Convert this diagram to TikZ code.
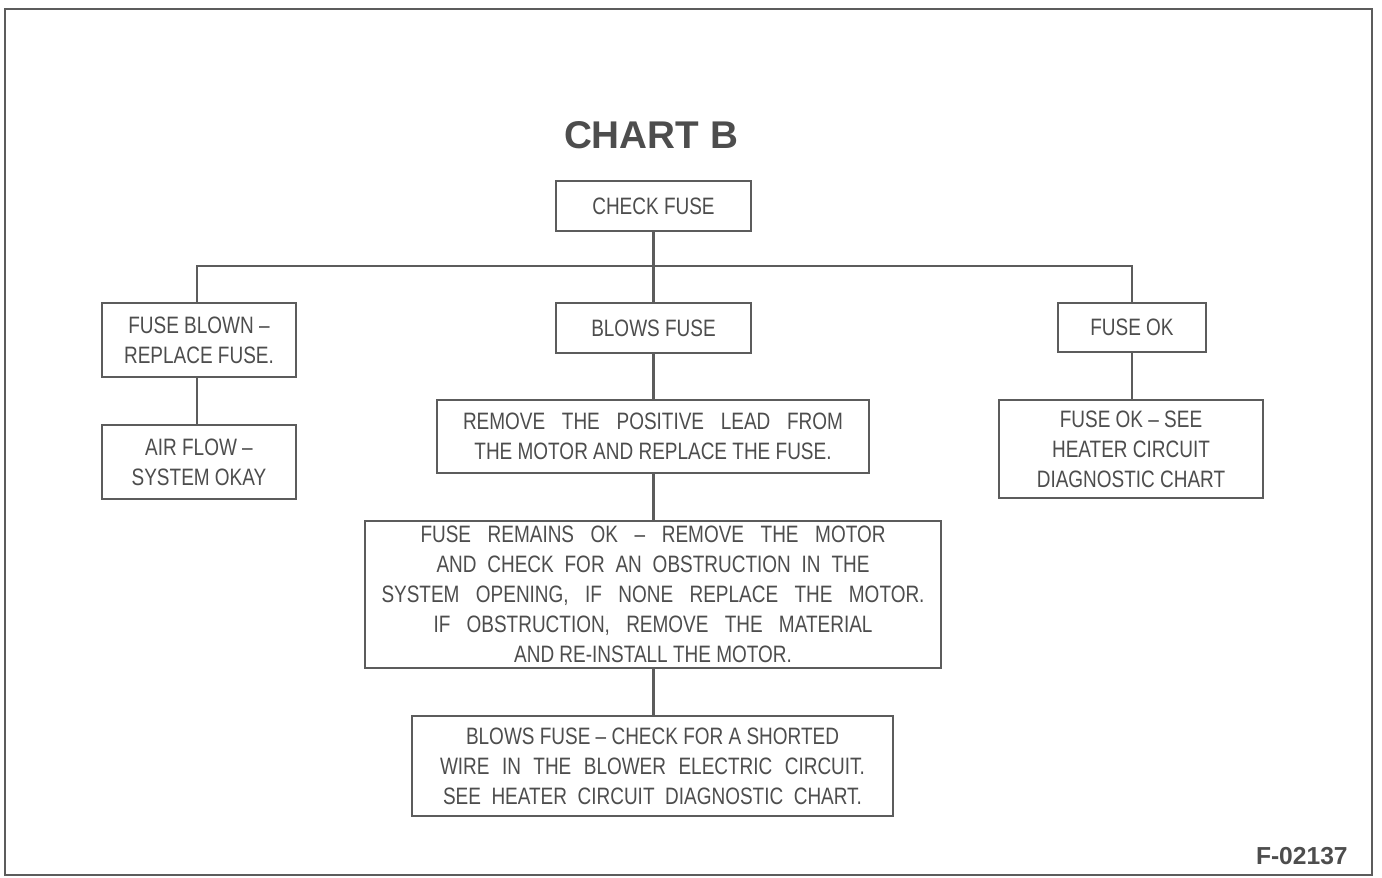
\documentclass[tikz,border=0pt]{standalone}
\usepackage{fontspec}
\usepackage{xcolor}
\usepackage{tikz}
\setmainfont{Liberation Sans}
\newfontfamily\chartcond{Liberation Sans}[FakeStretch=0.8]
\definecolor{CBInk}{HTML}{4D4D4D}
\definecolor{CBLine}{HTML}{5C5C5C}
\newcommand{\chartline}[2]{\makebox[#1][s]{#2}}
\tikzset{
  chartbox/.style={draw=CBLine,line width=1.6pt,fill=white,align=center,inner sep=0pt,
    text=CBInk,font=\chartcond\fontsize{13.5}{17}\selectfont},
  chartlink/.style={draw=CBLine,line width=1.6pt}
}

\begin{document}
\begin{tikzpicture}[x=1cm,y=1cm]
\path[use as bounding box] (0,0) rectangle (27.64,17.54);
\draw[CBLine,line width=1.6pt] (0.10,0.04) rectangle (27.44,17.36);
\node[text=CBInk,font=\bfseries\fontsize{22}{26}\selectfont] (title) at (13.02,14.84) {CHART B};
\node[chartbox,minimum width=3.90cm,minimum height=1.00cm] (check) at (13.07,13.42) {CHECK FUSE};
\node[chartbox,minimum width=3.88cm,minimum height=1.48cm] (blown) at (3.98,10.74) {FUSE BLOWN –\\REPLACE FUSE.};
\node[chartbox,minimum width=3.88cm,minimum height=1.48cm] (airflow) at (3.98,8.30) {AIR FLOW –\\SYSTEM OKAY};
\node[chartbox,minimum width=3.90cm,minimum height=1.00cm] (blows) at (13.07,10.98) {BLOWS FUSE};
\node[chartbox,minimum width=2.96cm,minimum height=0.98cm] (fuseok) at (22.64,10.99) {FUSE OK};
\node[chartbox,minimum width=5.28cm,minimum height=1.96cm] (seechart) at (22.62,8.56) {FUSE OK – SEE\\HEATER CIRCUIT\\DIAGNOSTIC CHART};
\node[chartbox,minimum width=8.64cm,minimum height=1.46cm] (removelead) at (13.06,8.81)
  {\chartline{7.60cm}{REMOVE THE POSITIVE LEAD FROM}\\THE MOTOR AND REPLACE THE FUSE.};
\node[chartbox,minimum width=11.52cm,minimum height=2.94cm] (remainsok) at (13.06,5.65)
  {\chartline{9.30cm}{FUSE REMAINS OK – REMOVE THE MOTOR}\\
   \chartline{8.66cm}{AND CHECK FOR AN OBSTRUCTION IN THE}\\
   \chartline{10.86cm}{SYSTEM OPENING, IF NONE REPLACE THE MOTOR.}\\
   \chartline{8.78cm}{IF OBSTRUCTION, REMOVE THE MATERIAL}\\
   AND RE-INSTALL THE MOTOR.};
\node[chartbox,minimum width=9.62cm,minimum height=2.00cm] (shorted) at (13.05,2.22)
  {BLOWS FUSE – CHECK FOR A SHORTED\\
   \chartline{8.50cm}{WIRE IN THE BLOWER ELECTRIC CIRCUIT.}\\
   \chartline{8.38cm}{SEE HEATER CIRCUIT DIAGNOSTIC CHART.}};
\coordinate (busL) at (3.94,12.22);
\coordinate (busR) at (22.64,12.22);
\draw[chartlink] (busL |- blown.north) -- (busL) -- (busR) -- (fuseok.north);
\draw[chartlink] (check.south) -- (blows.north);
\draw[chartlink] (blown.south -| busL) -- (airflow.north -| busL);
\draw[chartlink] (fuseok.south) -- (fuseok.south |- seechart.north);
\draw[chartlink] (blows.south) -- (blows.south |- removelead.north);
\draw[chartlink] (blows.south |- removelead.south) -- (blows.south |- remainsok.north);
\draw[chartlink] (blows.south |- remainsok.south) -- (blows.south |- shorted.north);
\node[anchor=south east,inner sep=0pt,text=CBInk,font=\bfseries\fontsize{14}{16}\selectfont] (figid) at (26.96,0.24) {F-02137};
\end{tikzpicture}
\end{document}
